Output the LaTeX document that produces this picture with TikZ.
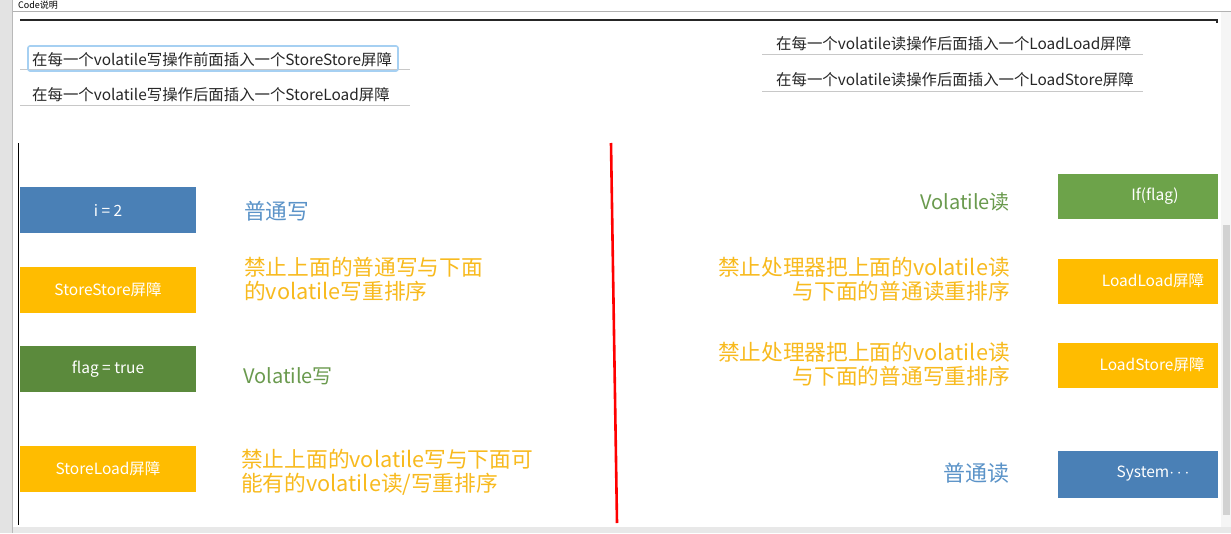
\documentclass[tikz,border=0pt]{standalone}
\usepackage{fontspec}
\setmainfont{Noto Sans CJK SC}
\definecolor{barblue}{HTML}{4A80B6}
\definecolor{bargold}{HTML}{FFBC00}
\definecolor{bargreen}{HTML}{5B8A3C}
\definecolor{bargreenlt}{HTML}{6DA34A}
\definecolor{txtblue}{HTML}{5B93C8}
\definecolor{txtgold}{HTML}{F8BA1E}
\definecolor{txtgreen}{HTML}{6A9A4E}
\definecolor{rulegray}{HTML}{C8C8C8}
\definecolor{hiblue}{HTML}{A6D0F2}

\begin{document}
\begin{tikzpicture}[x=1pt, y=-1pt,
  bar/.style={minimum width=176pt, minimum height=46pt, inner sep=0pt,
    text=white, font=\fontsize{15.5}{15.5}\selectfont},
  note/.style={anchor=base west, inner sep=0pt, font=\fontsize{15.4}{15.4}\selectfont, text=black!85},
  say/.style={inner sep=0pt, font=\fontsize{21.7}{24}\selectfont}]
  \useasboundingbox (0,0) rectangle (1231,533);
  % window frame
  \fill[white] (0,0) rectangle (1231,533);
  \fill[gray!22] (0,0) rectangle (12,533);
  \draw[gray!55] (12.5,0) -- (12.5,533);
  \node[anchor=base west, inner sep=0pt, font=\fontsize{9}{9}\selectfont] (title) at (18,8.5) {Code说明};
  \draw[gray!60] (13,11) -- (1231,11);
  \draw[black!85, line width=1.2pt] (20,20) -- (1217,20) -- (1217,23);
  \fill[gray!8] (1221,12) rectangle (1231,533);
  \fill[gray!35] (1223,225) rectangle (1230,515);
  \fill[gray!18] (13,527) rectangle (1231,533);
  % notes at the top
  \node[note] (n1) at (32,65) {在每一个volatile写操作前面插入一个StoreStore屏障};
  \node[note] (n2) at (32,100) {在每一个volatile写操作后面插入一个StoreLoad屏障};
  \node[note] (n3) at (776,49) {在每一个volatile读操作后面插入一个LoadLoad屏障};
  \node[note] (n4) at (776,85) {在每一个volatile读操作后面插入一个LoadStore屏障};
  \draw[rulegray] (20,69) -- (410,69);
  \draw[rulegray] (20,105) -- (410,105);
  \draw[rulegray] (762,54) -- (1143,54);
  \draw[rulegray] (762,91) -- (1143,91);
  \draw[hiblue, line width=1.6pt, rounded corners=2pt] (28,46) rectangle (398,71);
  % dividers
  \draw[black, line width=0.8pt] (18,143) -- (18,525);
  \draw[red, line width=2.6pt] (611,143) -- (617,523);
  % write side
  \node[bar, fill=barblue] (w1) at (108,210) {i = 2};
  \node[bar, fill=bargold] (w2) at (108,290) {StoreStore屏障};
  \node[bar, fill=bargreen] (w3) at (108,369) {flag = true};
  \node[bar, fill=bargold] (w4) at (108,469) {StoreLoad屏障};
  \node[say, anchor=west, text=txtblue] (s1) at (244,211) {普通写};
  \node[say, anchor=west, text=txtgold, align=left] (s2) at (244,279) {禁止上面的普通写与下面\\的volatile写重排序};
  \node[say, anchor=west, text=txtgreen, font=\fontsize{20}{24}\selectfont] (s3) at (243,376) {Volatile写};
  \node[say, anchor=west, text=txtgold, align=left] (s4) at (241,472) {禁止上面的volatile写与下面可\\能有的volatile读/写重排序};
  % read side
  \node[bar, fill=bargreenlt, minimum width=160pt, minimum height=45pt] (r1) at (1138,196) {\hspace*{34pt}If(flag)};
  \node[bar, fill=bargold, minimum width=160pt, minimum height=45pt] (r2) at (1138,281) {\hspace*{30pt}LoadLoad屏障};
  \node[bar, fill=bargold, minimum width=160pt, minimum height=45pt] (r3) at (1138,365) {\hspace*{28pt}LoadStore屏障};
  \node[bar, fill=barblue, minimum width=160pt, minimum height=47pt] (r4) at (1138,474) {\hspace*{30pt}System{\fontsize{17}{17}\selectfont$\cdots$}};
  \node[say, anchor=east, text=txtgreen, font=\fontsize{20}{24}\selectfont] (t1) at (1010,202) {Volatile读};
  \node[say, anchor=east, text=txtgold, align=right] (t2) at (1010,279) {禁止处理器把上面的volatile读\\与下面的普通读重排序};
  \node[say, anchor=east, text=txtgold, align=right] (t3) at (1010,364) {禁止处理器把上面的volatile读\\与下面的普通写重排序};
  \node[say, anchor=east, text=txtblue, font=\fontsize{22}{24}\selectfont] (t4) at (1010,473) {普通读};
\end{tikzpicture}
\end{document}
